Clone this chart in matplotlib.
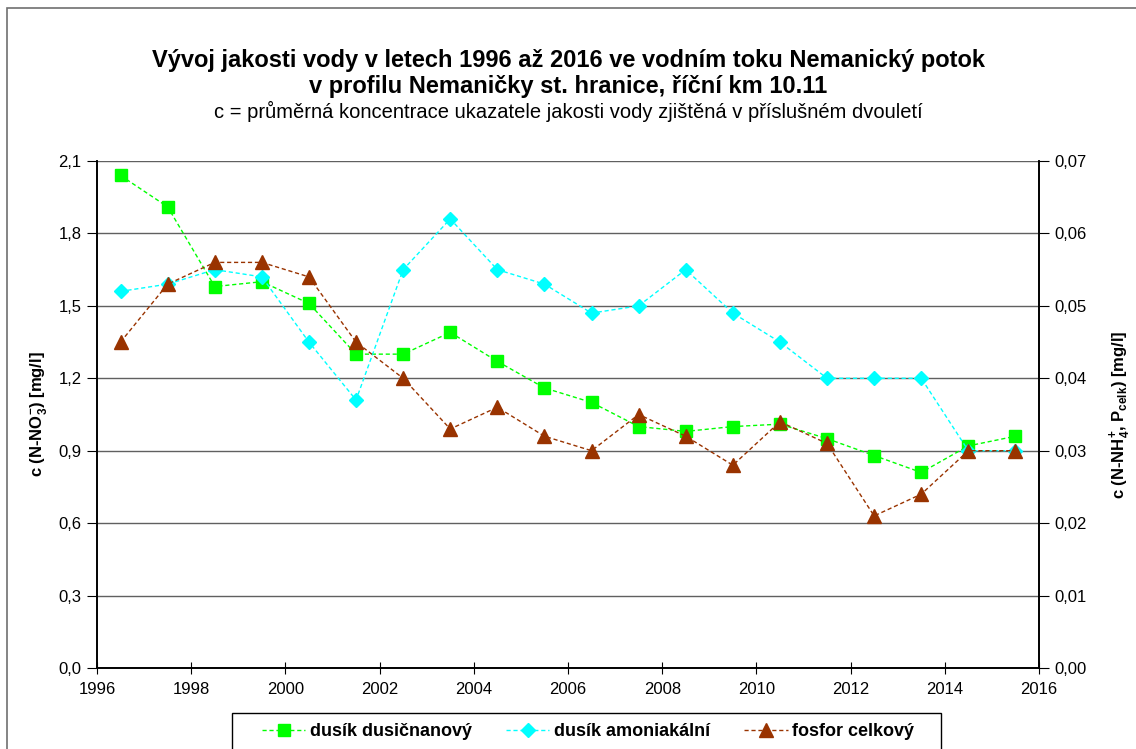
import matplotlib
matplotlib.use('Agg')
import matplotlib.pyplot as plt
from matplotlib.patches import Rectangle
from matplotlib.ticker import FuncFormatter, MultipleLocator

plt.rcParams['font.family'] = ['Liberation Sans', 'DejaVu Sans']
plt.rcParams['mathtext.fontset'] = 'custom'
plt.rcParams['mathtext.bf'] = 'Liberation Sans:bold'
plt.rcParams['mathtext.rm'] = 'Liberation Sans'

# stredy dvouleti
roky = [1996.5, 1997.5, 1998.5, 1999.5, 2000.5, 2001.5, 2002.5, 2003.5, 2004.5, 2005.5,
        2006.5, 2007.5, 2008.5, 2009.5, 2010.5, 2011.5, 2012.5, 2013.5, 2014.5, 2015.5]

# dusik dusicnanovy (leva osa)
n_no3 = [2.04, 1.91, 1.58, 1.60, 1.51, 1.30, 1.30, 1.39, 1.27, 1.16,
         1.10, 1.00, 0.98, 1.00, 1.01, 0.95, 0.88, 0.81, 0.92, 0.96]

# dusik amoniakalni (prava osa)
n_nh4 = [0.052, 0.053, 0.055, 0.054, 0.045, 0.037, 0.055, 0.062, 0.055, 0.053,
         0.049, 0.050, 0.055, 0.049, 0.045, 0.040, 0.040, 0.040, 0.030, 0.030]

# fosfor celkovy (prava osa)
p_celk = [0.045, 0.053, 0.056, 0.056, 0.054, 0.045, 0.040, 0.033, 0.036, 0.032,
          0.030, 0.035, 0.032, 0.028, 0.034, 0.031, 0.021, 0.024, 0.030, 0.030]

nazvy = ['dusík dusičnanový', 'dusík amoniakální', 'fosfor celkový']


def carka(fmt):
    return FuncFormatter(lambda v, pos: (fmt % v).replace('.', ','))


W, H = 1136, 749
fig = plt.figure(figsize=(W / 100, H / 100), dpi=100)
# ramecek grafu (presahuje pravy a dolni okraj)
fig.patches.append(Rectangle((7 / W, -0.05), 1.2, 1.05 - 8 / H, transform=fig.transFigure,
                             fill=False, edgecolor='#707070', lw=1.2))
# ramecek legendy
fig.patches.append(Rectangle((232 / W, -0.05), (941 - 232) / W, 0.05 + (H - 713) / H,
                             transform=fig.transFigure, fill=False, edgecolor='black', lw=1))

ax = fig.add_axes([97 / W, 81 / H, 942 / W, 507 / H])
ax2 = ax.twinx()

dash = (0, (3, 2))
l1, = ax.plot(roky, n_no3, linestyle=dash, color='#00FF00', lw=1, marker='s',
              markersize=8.5, markerfacecolor='#00FF00', markeredgecolor='#00FF00', label=nazvy[0])
l2, = ax2.plot(roky, n_nh4, linestyle=dash, color='#00FFFF', lw=1, marker='D',
               markersize=7.5, markerfacecolor='#00FFFF', markeredgecolor='#00FFFF', label=nazvy[1])
l3, = ax2.plot(roky, p_celk, linestyle=dash, color='#993300', lw=1, marker='^',
               markersize=9.5, markerfacecolor='#993300', markeredgecolor='#993300', label=nazvy[2])

ax.set_xlim(1996, 2016)
ax.set_ylim(0, 2.1)
ax2.set_ylim(0, 0.07)
ax.xaxis.set_major_locator(MultipleLocator(2))
ax.yaxis.set_major_locator(MultipleLocator(0.3))
ax2.yaxis.set_major_locator(MultipleLocator(0.01))
ax.yaxis.set_major_formatter(carka('%.1f'))
ax2.yaxis.set_major_formatter(carka('%.2f'))

ax.yaxis.grid(True, color='#606060', lw=1)
ax.set_axisbelow(True)
for a in (ax, ax2):
    a.spines['top'].set_visible(False)
    for s in ('left', 'right', 'bottom'):
        a.spines[s].set_color('black')
        a.spines[s].set_linewidth(1.2)

ax.tick_params(axis='x', direction='inout', length=8, labelsize=12, pad=6)
ax.tick_params(axis='y', direction='out', length=7, labelsize=12, pad=4)
ax2.tick_params(axis='y', direction='out', length=7, labelsize=12, pad=4)

ax.set_ylabel(r'c (N-NO$_\mathbf{3}^\mathbf{-}$) [mg/l]', fontsize=12, fontweight='bold', labelpad=7)
ax2.set_ylabel(r'c (N-NH$_\mathbf{4}^\mathbf{+}$, P$_\mathbf{celk}$) [mg/l]', fontsize=12,
               fontweight='bold', labelpad=15)

fig.text(0.5, 1 - 60 / H, 'Vývoj jakosti vody v letech 1996 až 2016 ve vodním toku Nemanický potok',
         ha='center', va='center', fontsize=17, fontweight='bold')
fig.text(0.5, 1 - 86 / H, 'v profilu Nemaničky st. hranice, říční km 10.11',
         ha='center', va='center', fontsize=17, fontweight='bold')
fig.text(0.5, 1 - 111 / H, 'c = průměrná koncentrace ukazatele jakosti vody zjištěná v příslušném dvouletí',
         ha='center', va='center', fontsize=14.5)

leg = fig.legend(handles=[l1, l2, l3], loc='center left', bbox_to_anchor=(262 / W, 1 - 732 / H),
                 ncol=3, frameon=False, borderpad=0, borderaxespad=0,
                 handlelength=2.4, handletextpad=0.25, columnspacing=1.9,
                 prop={'weight': 'bold', 'size': 13})

fig.savefig('out.png', dpi=100)
